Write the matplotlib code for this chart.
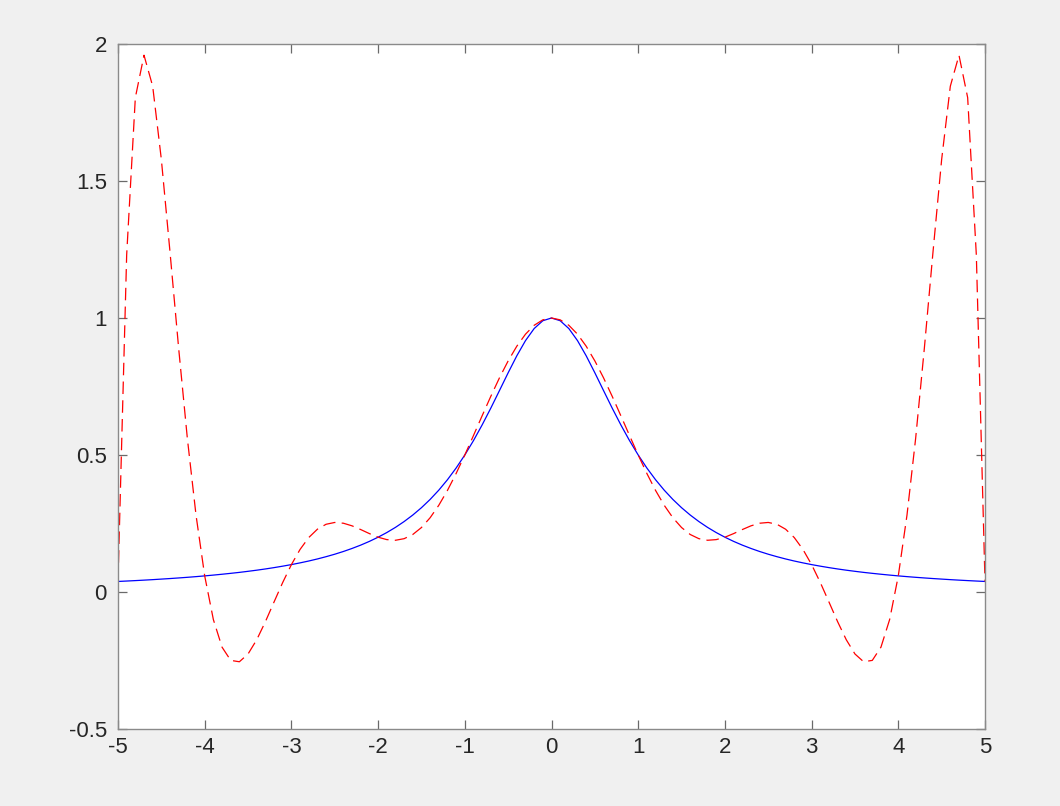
import numpy as np
import matplotlib
matplotlib.use('Agg')
import matplotlib.pyplot as plt

plt.rcParams.update({'font.family': ['Liberation Sans', 'DejaVu Sans'], 'font.size': 16})

# sample positions of both curves (step 0.1 from -5 to 5)
x_vals = np.linspace(-5, 5, 101)

blue_y = [0.0385, 0.0400, 0.0416, 0.0433, 0.0451, 0.0471, 0.0491, 0.0513, 0.0536, 0.0561,
          0.0588, 0.0617, 0.0648, 0.0681, 0.0716, 0.0755, 0.0796, 0.0841, 0.0890, 0.0943,
          0.1000, 0.1063, 0.1131, 0.1206, 0.1289, 0.1379, 0.1479, 0.1590, 0.1712, 0.1848,
          0.2000, 0.2169, 0.2358, 0.2571, 0.2809, 0.3077, 0.3378, 0.3717, 0.4098, 0.4525,
          0.5000, 0.5525, 0.6098, 0.6711, 0.7353, 0.8000, 0.8621, 0.9174, 0.9615, 0.9901,
          1.0000,
          0.9901, 0.9615, 0.9174, 0.8621, 0.8000, 0.7353, 0.6711, 0.6098, 0.5525, 0.5000,
          0.4525, 0.4098, 0.3717, 0.3378, 0.3077, 0.2809, 0.2571, 0.2358, 0.2169, 0.2000,
          0.1848, 0.1712, 0.1590, 0.1479, 0.1379, 0.1289, 0.1206, 0.1131, 0.1063, 0.1000,
          0.0943, 0.0890, 0.0841, 0.0796, 0.0755, 0.0716, 0.0681, 0.0648, 0.0617, 0.0588,
          0.0561, 0.0536, 0.0513, 0.0491, 0.0471, 0.0451, 0.0433, 0.0416, 0.0400, 0.0385]

red_y = [0.0385, 1.2303, 1.8044, 1.9590, 1.8459, 1.5787, 1.2402, 0.8881, 0.5604, 0.2802,
         0.0588, -0.1007, -0.2013, -0.2496, -0.2546, -0.2262, -0.1743, -0.1083, -0.0363, 0.0349,
         0.1000, 0.1554, 0.1987, 0.2292, 0.2472, 0.2538, 0.2510, 0.2414, 0.2278, 0.2131,
         0.2000, 0.1912, 0.1888, 0.1946, 0.2099, 0.2353, 0.2710, 0.3165, 0.3708, 0.4326,
         0.5000, 0.5710, 0.6432, 0.7142, 0.7818, 0.8434, 0.8971, 0.9409, 0.9734, 0.9933,
         1.0000,
         0.9933, 0.9734, 0.9409, 0.8971, 0.8434, 0.7818, 0.7142, 0.6432, 0.5710, 0.5000,
         0.4326, 0.3708, 0.3165, 0.2710, 0.2353, 0.2099, 0.1946, 0.1888, 0.1912, 0.2000,
         0.2131, 0.2278, 0.2414, 0.2510, 0.2538, 0.2472, 0.2292, 0.1987, 0.1554, 0.1000,
         0.0349, -0.0363, -0.1083, -0.1743, -0.2262, -0.2546, -0.2496, -0.2013, -0.1007, 0.0588,
         0.2802, 0.5604, 0.8881, 1.2402, 1.5787, 1.8459, 1.9590, 1.8044, 1.2303, 0.0385]

x_ticks = [-5, -4, -3, -2, -1, 0, 1, 2, 3, 4, 5]
y_ticks = [-0.5, 0, 0.5, 1, 1.5, 2]
x_labels = ['-5', '-4', '-3', '-2', '-1', '0', '1', '2', '3', '4', '5']
y_labels = ['-0.5', '0', '0.5', '1', '1.5', '2']

fig = plt.figure(figsize=(10.6, 8.06), dpi=100, facecolor='#f0f0f0')
ax = fig.add_axes([118 / 1060, 77 / 806, 867 / 1060, 685 / 806])
ax.set_facecolor('white')

ax.plot(x_vals, blue_y, color='#0000ff', lw=0.9)
ax.plot(x_vals, red_y, color='#ff0000', lw=0.9, dashes=(10, 5))

ax.set_xlim(-5, 5)
ax.set_ylim(-0.5, 2)
ax.set_xticks(x_ticks)
ax.set_xticklabels(x_labels)
ax.set_yticks(y_ticks)
ax.set_yticklabels(y_labels)

for s in ax.spines.values():
    s.set_color('#8a8a8a')
    s.set_linewidth(1.0)
ax.tick_params(direction='in', length=6.5, width=0.9, color='#6a6a6a',
               labelcolor='#262626', top=True, right=True)
ax.tick_params(axis='x', pad=6)
ax.tick_params(axis='y', pad=8)

fig.savefig('out.png', dpi=100, facecolor=fig.get_facecolor())
